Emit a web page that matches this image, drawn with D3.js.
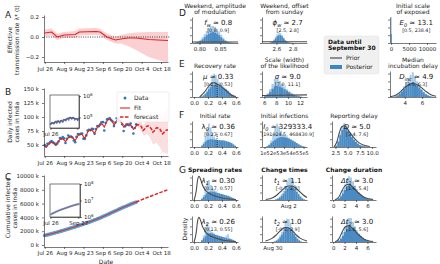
<!DOCTYPE html>
<html><head><meta charset="utf-8">
<script src="https://cdn.jsdelivr.net/npm/d3@7"></script>
<style>
body{margin:0;background:#fff}
svg{font-family:"DejaVu Sans",sans-serif}
</style></head><body>
<svg id="fig" width="440" height="264"></svg>
<script>
// ---- left column data ----
const startDate = new Date(2020, 6, 26);
const dateTicks = ['2020-07-26','2020-08-09','2020-08-23','2020-09-06','2020-09-20','2020-10-04','2020-10-18'];
const dateTickLabels = ['Jul 26','Aug 9','Aug 23','Sep 6','Sep 20','Oct 4','Oct 18'];

// effective transmission rate (days after Jul 26)
const lambdaDays = [0,5,9,14,22,25,37,40,45,51,55,60,66,75,89];
const lambdaMid = [0.04,0.05,0.0,0.02,0.025,0.05,0.055,0.05,0.0,-0.03,-0.02,-0.01,-0.01,-0.025,-0.035];
const lambdaHi = [0.075,0.085,0.035,0.05,0.06,0.085,0.09,0.08,0.035,0.005,0.02,0.035,0.045,0.05,0.05];
const lambdaLo = [0.005,0.015,-0.03,-0.01,-0.01,0.015,0.02,0.015,-0.03,-0.065,-0.065,-0.09,-0.13,-0.2,-0.26];

// daily new cases, thousands, Jul 26 .. Sep 30
const dailyCases = [49.9,47.7,52.1,52.5,55.1,57.1,54.7, 53.0,50.6,52.5,56.3,62.5,61.5,64.4,
  62.1,53.6,61.0,67.0,64.6,65.0,63.5, 58.0,55.1,64.5,69.7,68.9,69.9,70.5,
  61.4,61.0,67.2,75.8,77.3,76.5,78.8, 78.5,69.9,78.4,83.9,83.3,86.4,90.6,
  90.8,75.8,89.7,95.7,96.6,97.6,94.4, 92.1,83.8,90.1,97.9,96.4,93.3,92.6,
  87.0,75.1,83.3,86.5,86.1,85.4,88.6, 82.2,70.6,80.5,86.8];
const dailyFit = [48,46,49,52,54,55,54, 52,50,53,57,60,61,61, 59,56,59,63,65,65,64,
  61,58,62,67,69,70,69, 65,62,67,73,76,77,77, 74,71,76,82,85,87,88,
  86,82,87,93,96,96,95, 91,86,89,94,95,94,92, 88,82,84,87,88,87,86, 83,78,80,84];
// forecast, Sep 30 .. Oct 23
const forecastMid = [84,86,86,85,82,76,78,82,84,84,82,79,73,75,79,81,80,79,75,70,72,75,77,77];
const forecastLo = [82,82,80,78,74,67,67,69,69,67,63,59,52,52,53,53,50,47,42,37,36,36,35,34];
const forecastHi = [86,90,92,92,90,85,88,93,96,98,98,97,92,96,101,105,106,107,105,101,105,110,114,116];

// cumulative cases, thousands
const cumCases = [1385,1435,1483,1531,1584,1639,1695, 1750,1804,1856,1908,1964,2027,2088,
  2153,2215,2268,2329,2396,2461,2526, 2589,2647,2702,2767,2837,2905,2975,
  3044,3106,3167,3234,3310,3387,3463, 3542,3621,3691,3769,3853,3936,4023,
  4113,4204,4280,4370,4466,4562,4660, 4754,4846,4930,5020,5118,5214,5308,
  5400,5487,5562,5646,5732,5818,5903, 5992,6074,6145,6225];
const cumFitDays = [0,7,14,21,28,35,42,49,56,63,66];
const cumFit = [1385,1750,2153,2589,3044,3542,4113,4754,5400,5992,6225];
const cumForecastDays = [66,73,80,87,89];
const cumForecast = [6225,6800,7340,7870,8020];

// ---- posterior panels data ----
const amplDark = [0.02,0.04,0.08,0.14,0.22,0.3,0.36,0.4,0.42,0.4,0.36,0.3,0.22,0.14,0.08,0.04,0.02,0.01];
const amplLight = [0.03,0.06,0.12,0.22,0.34,0.46,0.56,0.64,0.66,0.62,0.54,0.44,0.32,0.2,0.12,0.06,0.03,0.01];
const offsetDark = [0.02,0.05,0.1,0.18,0.26,0.3,0.3,0.26,0.18,0.1,0.05,0.02,0.01,0.005];
const offsetLight = [0.03,0.07,0.14,0.24,0.34,0.42,0.38,0.3,0.2,0.12,0.06,0.03,0.01,0.005];
const e0Dark = [0.35];
const e0Light = [1.0];
const recDark = [0.02,0.06,0.12,0.2,0.3,0.38,0.44,0.46,0.46,0.44,0.42,0.4,0.36,0.32,0.28,0.22,0.16,0.1,0.05,0.02];
const recLight = [0.02,0.07,0.15,0.26,0.4,0.55,0.75,0.9,0.85,0.7,0.56,0.48,0.42,0.36,0.3,0.24,0.17,0.11,0.05,0.02];
const recPrior = [[0.08,0],[0.15,0.2],[0.22,0.45],[0.27,0.55],[0.33,0.5],[0.4,0.38],[0.47,0.22],[0.53,0.08],[0.6,0.02]];
const sigDark = [0.04,0.1,0.2,0.32,0.4,0.42,0.4,0.36,0.3,0.24,0.18,0.12,0.08,0.05,0.03,0.01];
const sigLight = [0.05,0.14,0.3,0.5,0.7,0.75,0.62,0.5,0.4,0.3,0.22,0.15,0.1,0.06,0.03,0.01];
const dincDark = [0.02,0.06,0.12,0.2,0.3,0.4,0.48,0.54,0.56,0.52,0.45,0.36,0.27,0.18,0.11,0.06,0.03,0.01];
const dincLight = [0.03,0.08,0.16,0.28,0.42,0.58,0.72,0.85,0.95,0.8,0.6,0.45,0.32,0.2,0.12,0.07,0.03,0.01];
const dincPrior = [[2.3,0.01],[3,0.08],[3.5,0.2],[4,0.36],[4.5,0.48],[5,0.52],[5.5,0.46],[6,0.34],[6.5,0.2],[7,0.09],[7.6,0.03]];
const l0Dark = [0.05,0.12,0.2,0.26,0.28,0.3,0.3,0.28,0.27,0.26,0.26,0.25,0.25,0.24,0.22,0.2,0.18,0.15,0.1,0.05];
const l0Light = [0.06,0.18,0.4,0.7,0.9,0.75,0.55,0.4,0.32,0.28,0.27,0.26,0.26,0.25,0.23,0.21,0.18,0.15,0.1,0.05];
const i0Dark = [0.03,0.08,0.15,0.22,0.28,0.33,0.36,0.38,0.38,0.37,0.35,0.32,0.28,0.24,0.2,0.15,0.1,0.06,0.03,0.01];
const i0Light = [0.04,0.1,0.25,0.5,0.75,0.9,0.8,0.62,0.5,0.44,0.4,0.36,0.3,0.25,0.2,0.15,0.1,0.06,0.03,0.01];
const repDark = [0.05,0.2,0.45,0.65,0.75,0.72,0.62,0.5,0.38,0.28,0.2,0.13,0.08,0.05,0.03,0.02,0.01,0.005];
const repLight = [0.06,0.25,0.55,0.8,0.92,0.85,0.7,0.55,0.4,0.29,0.2,0.13,0.08,0.05,0.03,0.02,0.01,0.005];
const repPrior = [[2.2,0],[2.8,0.2],[3.3,0.55],[3.8,0.78],[4.3,0.82],[4.8,0.74],[5.5,0.55],[6.3,0.35],[7.2,0.18],[8.2,0.08],[9.5,0.02]];
const l1Dark = [0.05,0.12,0.2,0.28,0.32,0.34,0.34,0.32,0.3,0.28,0.26,0.24,0.22,0.2,0.18,0.16,0.13,0.1,0.07,0.04];
const l1Light = [0.06,0.2,0.45,0.7,0.8,0.6,0.5,0.42,0.36,0.3,0.27,0.25,0.23,0.21,0.19,0.17,0.14,0.1,0.07,0.04];
const l2Dark = [0.06,0.14,0.22,0.3,0.33,0.34,0.33,0.3,0.27,0.25,0.23,0.21,0.19,0.17,0.15,0.13,0.12,0.1,0.07,0.04];
const l2Light = [0.08,0.25,0.55,0.75,0.6,0.45,0.38,0.33,0.28,0.26,0.24,0.22,0.2,0.18,0.24,0.3,0.14,0.1,0.07,0.04];
const lambdaPrior = [[0.0,0],[0.03,0.35],[0.05,0.8],[0.07,0.95],[0.09,0.85],[0.12,0.6],[0.16,0.4],[0.22,0.26],[0.3,0.16],[0.4,0.08],[0.5,0.04],[0.6,0.02]];
const t1Dark = [0.02,0.05,0.1,0.17,0.26,0.36,0.46,0.52,0.54,0.5,0.42,0.32,0.22,0.13,0.06,0.02];
const t1Light = [0.03,0.07,0.14,0.24,0.38,0.56,0.74,0.88,0.9,0.78,0.6,0.42,0.27,0.15,0.07,0.02];
const t1Prior = [[-6,0.02],[-4,0.1],[-3,0.2],[-2,0.34],[-1,0.48],[0,0.56],[1,0.56],[2,0.48],[3,0.34],[4,0.2],[5,0.1]];
const t2Dark = [0.02,0.05,0.1,0.18,0.28,0.38,0.48,0.53,0.54,0.48,0.4,0.3,0.2,0.12,0.06,0.02];
const t2Light = [0.03,0.08,0.15,0.26,0.4,0.58,0.76,0.9,0.88,0.74,0.56,0.4,0.26,0.14,0.07,0.02];
const t2Prior = [[-2,0.04],[0,0.15],[1,0.26],[2,0.4],[3,0.52],[4,0.56],[5,0.52],[6,0.4],[7,0.26],[8,0.15],[10,0.04]];
const dt1Dark = [0.02,0.06,0.14,0.26,0.4,0.52,0.58,0.58,0.52,0.44,0.35,0.27,0.2,0.14,0.09,0.05,0.03,0.01];
const dt1Light = [0.03,0.08,0.2,0.4,0.62,0.82,0.95,0.9,0.75,0.58,0.43,0.31,0.22,0.15,0.09,0.05,0.03,0.01];
const dt2Dark = [0.02,0.05,0.12,0.24,0.38,0.5,0.57,0.58,0.54,0.46,0.37,0.29,0.22,0.15,0.1,0.06,0.03,0.01];
const dt2Light = [0.03,0.07,0.18,0.38,0.6,0.8,0.93,0.92,0.78,0.6,0.45,0.33,0.23,0.16,0.1,0.06,0.03,0.01];
const dtPrior = [[0.3,0],[1,0.12],[1.5,0.35],[2,0.55],[2.5,0.62],[3,0.6],[3.5,0.5],[4,0.38],[4.5,0.27],[5,0.18],[5.5,0.1],[6.2,0.05],[7,0.02]];

const colors = {
    red: '#e3211c',
    band: '#f9c8ca',
    blue: '#2a78bd',
    blueLight: '#5aa2da',
    dark: '#4b8bc4',
    light: '#a9cce9',
    prior: '#4d4d4d'
};

const svg = d3.select('#fig');
const xDate = d3.scaleTime()
    .domain([new Date(2020, 6, 25, 12), new Date(2020, 9, 23)])
    .range([44, 168]);
const dayX = d => xDate(d3.timeDay.offset(startDate, d));

function styleAxis(g, fs) {
    g.attr('font-size', fs || 5.5).attr('font-family', 'DejaVu Sans');
    g.selectAll('path, line').attr('stroke', '#222').attr('stroke-width', 0.6);
    g.selectAll('text').attr('fill', '#222');
    return g;
}

function dateAxis(yPos, pad) {
    const ax = d3.axisBottom(xDate)
        .tickValues(dateTicks.map(d => new Date(d + 'T00:00')))
        .tickFormat((d, i) => dateTickLabels[i])
        .tickSize(2).tickSizeOuter(0).tickPadding(pad || 3);
    styleAxis(svg.append('g').attr('transform', `translate(0,${yPos})`).call(ax));
}

function ylabel(x1, x2, yc, l1, l2) {
    [[x1, l1], [x2, l2]].forEach(([x, t]) => {
        svg.append('text').attr('transform', `translate(${x},${yc}) rotate(-90)`)
            .attr('text-anchor', 'middle').attr('font-size', 6).attr('fill', '#222').text(t);
    });
}

function letter(t, x, y) {
    svg.append('text').attr('x', x).attr('y', y).attr('font-size', 9).attr('fill', '#222').text(t);
}

// ---------- A ----------
const yA = d3.scaleLinear().domain([-0.25, 0.22]).range([62, 15]);
const clipA = svg.append('clipPath').attr('id', 'clipA');
clipA.append('rect').attr('x', 44).attr('y', 15).attr('width', 128).attr('height', 47);
svg.append('path').datum(lambdaDays.map((d, i) => [d, lambdaLo[i], lambdaHi[i]]))
    .attr('clip-path', 'url(#clipA)')
    .attr('d', d3.area().x(d => dayX(d[0])).y0(d => yA(d[1])).y1(d => yA(d[2])))
    .attr('fill', colors.band).attr('opacity', 0.85);
svg.append('line').attr('x1', 44).attr('x2', 170).attr('y1', yA(0)).attr('y2', yA(0))
    .attr('stroke', '#111').attr('stroke-width', 0.8).attr('stroke-dasharray', '1,1.3');
svg.append('path').datum(lambdaDays.map((d, i) => [d, lambdaMid[i]]))
    .attr('d', d3.line().x(d => dayX(d[0])).y(d => yA(d[1])))
    .attr('fill', 'none').attr('stroke', colors.red).attr('stroke-width', 1.1);
styleAxis(svg.append('g').attr('transform', 'translate(44,0)')
    .call(d3.axisLeft(yA).tickValues([-0.2, 0, 0.2]).tickFormat(d3.format('.1f')).tickSize(2).tickSizeOuter(0)));
dateAxis(62);
ylabel(12, 19, 40, 'Effective', 'transmission rate λ* (t)');
letter('A', 5, 18);

// ---------- B ----------
const yB = d3.scaleLinear().domain([30.4, 151.8]).range([156, 88]);
const fcDates = forecastMid.map((d, i) => 66 + i);
svg.append('path').datum(fcDates.map((d, i) => [d, forecastLo[i], forecastHi[i]]))
    .attr('d', d3.area().x(d => dayX(d[0])).y0(d => yB(Math.max(d[1], 30.4))).y1(d => yB(d[2])))
    .attr('fill', colors.band).attr('opacity', 0.6);

// inset B
const insetB = { x: 50, y: 95, w: 29, h: 33 };
const xInset = d3.scaleTime().domain([new Date(2020, 6, 25), new Date(2020, 9, 1)]).range([insetB.x, insetB.x + insetB.w]);
const yInsetB = d3.scaleLog().domain([Math.pow(10, 4.5), Math.pow(10, 6.05)]).range([insetB.y + insetB.h, insetB.y]);
svg.append('rect').attr('x', insetB.x).attr('y', insetB.y).attr('width', insetB.w).attr('height', insetB.h)
    .attr('fill', '#fff').attr('stroke', '#222').attr('stroke-width', 0.6);
svg.append('g').selectAll('circle').data(dailyCases).join('circle')
    .attr('cx', (d, i) => xInset(d3.timeDay.offset(startDate, i)))
    .attr('cy', d => yInsetB(d * 1000)).attr('r', 0.8).attr('fill', colors.blue);
svg.append('path').datum(dailyFit)
    .attr('d', d3.line().x((d, i) => xInset(d3.timeDay.offset(startDate, i))).y(d => yInsetB(d * 1000)))
    .attr('fill', 'none').attr('stroke', colors.red).attr('stroke-width', 0.6);
styleAxis(svg.append('g').attr('transform', `translate(${insetB.x + insetB.w},0)`)
    .call(d3.axisRight(yInsetB).tickValues([1e5, 1e6]).tickFormat('').tickSize(2).tickSizeOuter(0)));
[[1e6, '6'], [1e5, '5']].forEach(([v, e]) => {
    const t = svg.append('text').attr('x', insetB.x + insetB.w + 4).attr('y', yInsetB(v) + 2)
        .attr('font-size', 5.5).attr('fill', '#222');
    t.append('tspan').text('10');
    t.append('tspan').attr('dy', -2.5).attr('font-size', 4).text(e);
});
styleAxis(svg.append('g').attr('transform', `translate(0,${insetB.y + insetB.h})`)
    .call(d3.axisBottom(xInset).tickValues([new Date(2020, 6, 26), new Date(2020, 8, 27)])
        .tickFormat((d, i) => i === 0 ? 'Jul 26' : '').tickSize(2).tickSizeOuter(0).tickPadding(2)));

svg.append('g').selectAll('circle').data(dailyCases).join('circle')
    .attr('cx', (d, i) => dayX(i)).attr('cy', d => yB(d)).attr('r', 1.3).attr('fill', colors.blue);
svg.append('path').datum(dailyFit)
    .attr('d', d3.line().x((d, i) => dayX(i)).y(d => yB(d)))
    .attr('fill', 'none').attr('stroke', colors.red).attr('stroke-width', 1.1);
svg.append('path').datum(forecastMid)
    .attr('d', d3.line().x((d, i) => dayX(66 + i)).y(d => yB(d)))
    .attr('fill', 'none').attr('stroke', colors.red).attr('stroke-width', 1.5).attr('stroke-dasharray', '3.5,1.5');
styleAxis(svg.append('g').attr('transform', 'translate(44,0)')
    .call(d3.axisLeft(yB).tickValues([50, 75, 100, 125, 150]).tickFormat(d => d + ' k').tickSize(2).tickSizeOuter(0)));
dateAxis(156);
ylabel(12, 19, 122, 'Daily infected', 'cases in India');
letter('B', 5, 95);

// legend B
const legB = svg.append('g').attr('transform', 'translate(117,92)');
legB.append('rect').attr('width', 52).attr('height', 30).attr('rx', 1.5)
    .attr('fill', '#fff').attr('fill-opacity', 0.85).attr('stroke', '#ddd').attr('stroke-width', 0.5);
legB.append('circle').attr('cx', 8).attr('cy', 6).attr('r', 1.5).attr('fill', colors.blue);
legB.append('line').attr('x1', 3).attr('x2', 13).attr('y1', 16).attr('y2', 16).attr('stroke', colors.red).attr('stroke-width', 1.1);
legB.append('line').attr('x1', 3).attr('x2', 13).attr('y1', 25).attr('y2', 25).attr('stroke', colors.red)
    .attr('stroke-width', 1.5).attr('stroke-dasharray', '3.5,1.5');
['Data', 'Fit', 'forecast'].forEach((t, i) => legB.append('text').attr('x', 17).attr('y', 8 + i * 9.5)
    .attr('font-size', 6).attr('fill', '#222').text(t));

// ---------- C ----------
const yC = d3.scaleLinear().domain([-290, 10145]).range([247, 175]);
svg.append('g').selectAll('circle').data(cumCases).join('circle')
    .attr('cx', (d, i) => dayX(i)).attr('cy', d => yC(d)).attr('r', 1.9).attr('fill', colors.blueLight);
svg.append('path').datum(cumFitDays.map((d, i) => [d, cumFit[i]]))
    .attr('d', d3.line().x(d => dayX(d[0])).y(d => yC(d[1])).curve(d3.curveMonotoneX))
    .attr('fill', 'none').attr('stroke', colors.red).attr('stroke-width', 0.9);
svg.append('path').datum(cumForecastDays.map((d, i) => [d, cumForecast[i]]))
    .attr('d', d3.line().x(d => dayX(d[0])).y(d => yC(d[1])).curve(d3.curveMonotoneX))
    .attr('fill', 'none').attr('stroke', colors.red).attr('stroke-width', 1.5).attr('stroke-dasharray', '3.5,1.5');

const insetC = { x: 50, y: 184, w: 30, h: 33 };
const xInsetC = d3.scaleTime().domain([new Date(2020, 6, 25), new Date(2020, 9, 1)]).range([insetC.x, insetC.x + insetC.w]);
const yInsetC = d3.scaleLog().domain([1e6, 1e8]).range([insetC.y + insetC.h, insetC.y]);
svg.append('rect').attr('x', insetC.x).attr('y', insetC.y).attr('width', insetC.w).attr('height', insetC.h)
    .attr('fill', '#fff').attr('stroke', '#222').attr('stroke-width', 0.6);
svg.append('path').datum(cumCases)
    .attr('d', d3.line().x((d, i) => xInsetC(d3.timeDay.offset(startDate, i))).y(d => yInsetC(d * 1000)))
    .attr('fill', 'none').attr('stroke', colors.blueLight).attr('stroke-width', 2);
svg.append('path').datum(cumCases)
    .attr('d', d3.line().x((d, i) => xInsetC(d3.timeDay.offset(startDate, i))).y(d => yInsetC(d * 1000)))
    .attr('fill', 'none').attr('stroke', colors.red).attr('stroke-width', 0.6);
styleAxis(svg.append('g').attr('transform', `translate(${insetC.x + insetC.w},0)`)
    .call(d3.axisRight(yInsetC).tickValues([1e6, 1e7, 1e8]).tickFormat('').tickSize(2).tickSizeOuter(0)));
[[1e8, '8'], [1e7, '7'], [1e6, '6']].forEach(([v, e]) => {
    const t = svg.append('text').attr('x', insetC.x + insetC.w + 4).attr('y', yInsetC(v) + 2)
        .attr('font-size', 5.5).attr('fill', '#222');
    t.append('tspan').text('10');
    t.append('tspan').attr('dy', -2.5).attr('font-size', 4).text(e);
});
styleAxis(svg.append('g').attr('transform', `translate(0,${insetC.y + insetC.h})`)
    .call(d3.axisBottom(xInsetC).tickValues([new Date(2020, 6, 26), new Date(2020, 8, 27)])
        .tickFormat((d, i) => i === 0 ? 'Jul 26' : 'Sep 27').tickSize(2).tickSizeOuter(0).tickPadding(2)));

styleAxis(svg.append('g').attr('transform', 'translate(44,0)')
    .call(d3.axisLeft(yC).tickValues([0, 2000, 4000, 6000, 8000, 10000]).tickFormat(d => d + ' k').tickSize(2).tickSizeOuter(0)));
dateAxis(247, 2);
svg.append('text').attr('x', 106).attr('y', 263.5).attr('text-anchor', 'middle').attr('font-size', 6).attr('fill', '#222').text('Date');
ylabel(10, 17, 208, 'Cumulative infected', 'cases in India');
letter('C', 5, 180);

// ---------- D-G posterior panels ----------
const cols = [{ x: 192, w: 46 }, { x: 262, w: 45 }, { x: 332, w: 44 }, { x: 390, w: 46 }];
const rows = [{ y: 17, h: 26 }, { y: 71, h: 26 }, { y: 121, h: 26 }, { y: 175, h: 25 }, { y: 216, h: 26 }];

function estimateText(g, cx, y, sym, sub, val, ci, italicSym) {
    const t = g.append('text').attr('x', cx).attr('y', y).attr('text-anchor', 'middle')
        .attr('font-size', 7).attr('fill', '#111');
    t.append('tspan').attr('font-style', italicSym === false ? null : 'italic').text(sym);
    if (sub) {
        t.append('tspan').attr('dy', 1.6).attr('font-size', 5).attr('font-style', 'italic').text(sub);
        t.append('tspan').attr('dy', -1.6).text(' ≈ ' + val);
    } else {
        t.append('tspan').text(' ≈ ' + val);
    }
    g.append('text').attr('x', cx).attr('y', y + 6.5).attr('text-anchor', 'middle')
        .attr('font-size', 4.8).attr('fill', '#222').text(ci);
}

function panel(p) {
    const c = cols[p.col], r = rows[p.row];
    const g = svg.append('g').attr('transform', `translate(${c.x},${r.y})`);
    const x = d3.scaleLinear().domain(p.domain).range([0, c.w]);
    const y = d3.scaleLinear().domain([0, 1]).range([r.h, 0]);
    const bars = (arr, color) => g.append('g').selectAll('rect').data(arr).join('rect')
        .attr('x', (d, i) => x(p.start + i * p.step))
        .attr('width', (d, i) => Math.max(0.8, x(p.start + (i + 1) * p.step) - x(p.start + i * p.step)))
        .attr('y', d => y(d)).attr('height', d => r.h - y(d))
        .attr('fill', color);
    bars(p.light, colors.light);
    bars(p.dark, colors.dark);
    if (p.prior) {
        g.append('path').datum(p.prior)
            .attr('d', d3.line().x(d => x(d[0])).y(d => y(d[1])).curve(d3.curveMonotoneX))
            .attr('fill', 'none').attr('stroke', colors.prior).attr('stroke-width', 1.1);
    }
    if (p.median !== undefined) {
        g.append('line').attr('x1', x(p.median)).attr('x2', x(p.median)).attr('y1', r.h).attr('y2', y(0.55))
            .attr('stroke', '#111').attr('stroke-width', 0.7).attr('stroke-dasharray', '1,1');
    }
    styleAxis(g.append('g').attr('transform', `translate(0,${r.h})`)
        .call(d3.axisBottom(x).tickValues(p.ticks).tickFormat(p.fmt).tickSize(2).tickSizeOuter(0).tickPadding(2.5)), p.fs);
    styleAxis(g.append('g')
        .call(d3.axisLeft(y).tickValues([0, 0.3, 0.6, 0.9]).tickFormat('').tickSize(2).tickSizeOuter(0)));
    estimateText(g, c.w * 0.57, 8, p.sym, p.sub, p.val, p.ci, p.italic);
    if (p.title) {
        p.title.forEach((t, i) => g.append('text').attr('x', c.w * 0.5)
            .attr('y', -3 - (p.title.length - 1 - i) * 6.5).attr('text-anchor', 'middle')
            .attr('font-size', 6).attr('fill', '#222').text(t));
    }
}

const fmt1 = d3.format('.1f');
panel({ col: 0, row: 0, domain: [0.782, 0.893], ticks: [0.80, 0.85], fmt: d3.format('.2f'), start: 0.79, step: 0.005,
    dark: amplDark, light: amplLight, prior: [[0.782, 0.04], [0.893, 0.04]],
    sym: 'f', sub: 'w', val: '0.8', ci: '[0.8, 0.9]', title: ['Weekend, amplitude', 'of modulation'] });
panel({ col: 1, row: 0, domain: [2.42, 2.98], ticks: [2.6, 2.8], fmt: fmt1, start: 2.52, step: 0.02,
    dark: offsetDark, light: offsetLight, prior: [[2.42, 0.05], [2.98, 0.05]],
    sym: 'ϕ', sub: 'w', val: '2.7', ci: '[2.5, 2.8]', title: ['Weekend, offset', 'from sunday'] });
panel({ col: 3, row: 0, domain: [-300, 12500], ticks: [0, 5000, 10000], fmt: d3.format('d'), start: 0, step: 150,
    dark: e0Dark, light: e0Light,
    sym: 'E', sub: '0', val: '13.1', ci: '[0.5, 238.4]', title: ['Initial scale', 'of exposed'] });
panel({ col: 0, row: 1, domain: [-0.03, 0.63], ticks: [0, 0.2, 0.4, 0.6], fmt: fmt1, start: 0.1, step: 0.025,
    dark: recDark, light: recLight, prior: recPrior, median: 0.33,
    sym: 'μ', val: '0.33', ci: '[0.23, 0.53]', title: ['Recovery rate'] });
panel({ col: 1, row: 1, domain: [5.6, 13.2], ticks: [6, 8, 10, 12], fmt: d3.format('d'), start: 6, step: 0.4,
    dark: sigDark, light: sigLight, prior: [[5.6, 0.06], [13.2, 0.08]],
    sym: 'σ', val: '9.0', ci: '[7.0, 11.1]', title: ['Scale (width)', 'of the likelihood'] });
panel({ col: 3, row: 1, domain: [2.3, 7.6], ticks: [4, 6], fmt: d3.format('d'), start: 2.8, step: 0.25,
    dark: dincDark, light: dincLight, prior: dincPrior,
    sym: 'D', sub: 'inc', val: '4.9', ci: '[3.5, 6.3]', title: ['Median', 'incubation delay'] });
panel({ col: 0, row: 2, domain: [-0.03, 0.63], ticks: [0, 0.2, 0.4, 0.6], fmt: fmt1, start: 0.1, step: 0.025,
    dark: l0Dark, light: l0Light, median: 0.33,
    sym: 'λ', sub: '0', val: '0.36', ci: '[0.23, 0.67]', italic: false, title: ['Initial rate'] });
panel({ col: 1, row: 2, domain: [0.75e5, 5.35e5], ticks: [1e5, 2e5, 3e5, 4e5, 5e5], fmt: d => (d / 1e5) + 'e5', fs: 5, start: 1.2e5, step: 0.2e5,
    dark: i0Dark, light: i0Light,
    sym: 'I', sub: '0', val: '329333.4', ci: '[191924.5, 468430.9]', title: ['Initial infections'] });
panel({ col: 2, row: 2, domain: [1.8, 10.8], ticks: [2.5, 5, 7.5, 10], fmt: fmt1, start: 2.5, step: 0.4,
    dark: repDark, light: repLight, prior: repPrior,
    sym: 'D', val: '5.0', ci: '[3.4, 7.6]', title: ['Reporting delay'] });
panel({ col: 0, row: 3, domain: [-0.03, 0.63], ticks: [0, 0.2, 0.4, 0.6], fmt: fmt1, start: 0.1, step: 0.025,
    dark: l1Dark, light: l1Light, prior: lambdaPrior,
    sym: 'λ', sub: '1', val: '0.30', ci: '[0.17, 0.57]' });
panel({ col: 1, row: 3, domain: [-7, 5], ticks: [0], fmt: () => 'Aug 2', start: -3.5, step: 0.5,
    dark: t1Dark, light: t1Light, prior: t1Prior,
    sym: 't', sub: '1', val: '1.1', ci: '[-0.7, 2.8]' });
panel({ col: 2, row: 3, domain: [-0.2, 7.5], ticks: [0, 2, 4, 6], fmt: d3.format('d'), start: 0.5, step: 0.35,
    dark: dt1Dark, light: dt1Light, prior: dtPrior,
    sym: 'Δt', sub: '1', val: '3.0', ci: '[1.6, 5.4]' });
panel({ col: 0, row: 4, domain: [-0.03, 0.63], ticks: [0, 0.2, 0.4, 0.6], fmt: fmt1, start: 0.1, step: 0.025,
    dark: l2Dark, light: l2Light, prior: lambdaPrior,
    sym: 'λ', sub: '2', val: '0.26', ci: '[0.13, 0.55]' });
panel({ col: 1, row: 4, domain: [-3, 10], ticks: [0], fmt: () => 'Aug 30', start: 0.5, step: 0.5,
    dark: t2Dark, light: t2Light, prior: t2Prior,
    sym: 't', sub: '2', val: '1.0', ci: '[-0.8, 2.9]' });
panel({ col: 2, row: 4, domain: [-0.2, 7.5], ticks: [0, 2, 4, 6], fmt: d3.format('d'), start: 0.5, step: 0.35,
    dark: dt2Dark, light: dt2Light, prior: dtPrior,
    sym: 'Δt', sub: '2', val: '3.0', ci: '[1.8, 5.6]' });

// section titles for G
[['Spreading rates', 0], ['Change times', 1], ['Change duration', 2]].forEach(([t, c]) => {
    svg.append('text').attr('x', cols[c].x + cols[c].w * 0.5).attr('y', 172).attr('text-anchor', 'middle')
        .attr('font-size', 6).attr('font-weight', 'bold').attr('fill', '#111').text(t);
});
svg.append('text').attr('transform', `translate(187,${rows[4].y + rows[4].h / 2}) rotate(-90)`)
    .attr('text-anchor', 'middle').attr('font-size', 6).attr('fill', '#222').text('Density');

letter('D', 179, 16);
letter('E', 179, 67);
letter('F', 179, 118);
letter('G', 179, 173);

// legend for posteriors
const legP = svg.append('g').attr('transform', 'translate(324,36)');
legP.append('rect').attr('width', 55).attr('height', 38).attr('rx', 2)
    .attr('fill', '#f0f0f0').attr('stroke', '#e0e0e0').attr('stroke-width', 0.5);
legP.append('text').attr('x', 4).attr('y', 7.5).attr('font-size', 6).attr('font-weight', 'bold').attr('fill', '#111').text('Data until');
legP.append('text').attr('x', 4).attr('y', 14).attr('font-size', 6).attr('font-weight', 'bold').attr('fill', '#111').text('September 30');
legP.append('line').attr('x1', 6).attr('x2', 18).attr('y1', 22).attr('y2', 22).attr('stroke', colors.prior).attr('stroke-width', 1.2);
legP.append('rect').attr('x', 6).attr('y', 29).attr('width', 12).attr('height', 4).attr('fill', '#3d85c6');
legP.append('text').attr('x', 22).attr('y', 24).attr('font-size', 6).attr('fill', '#222').text('Prior');
legP.append('text').attr('x', 22).attr('y', 33).attr('font-size', 6).attr('fill', '#222').text('Posterior');
</script>
</body></html>
